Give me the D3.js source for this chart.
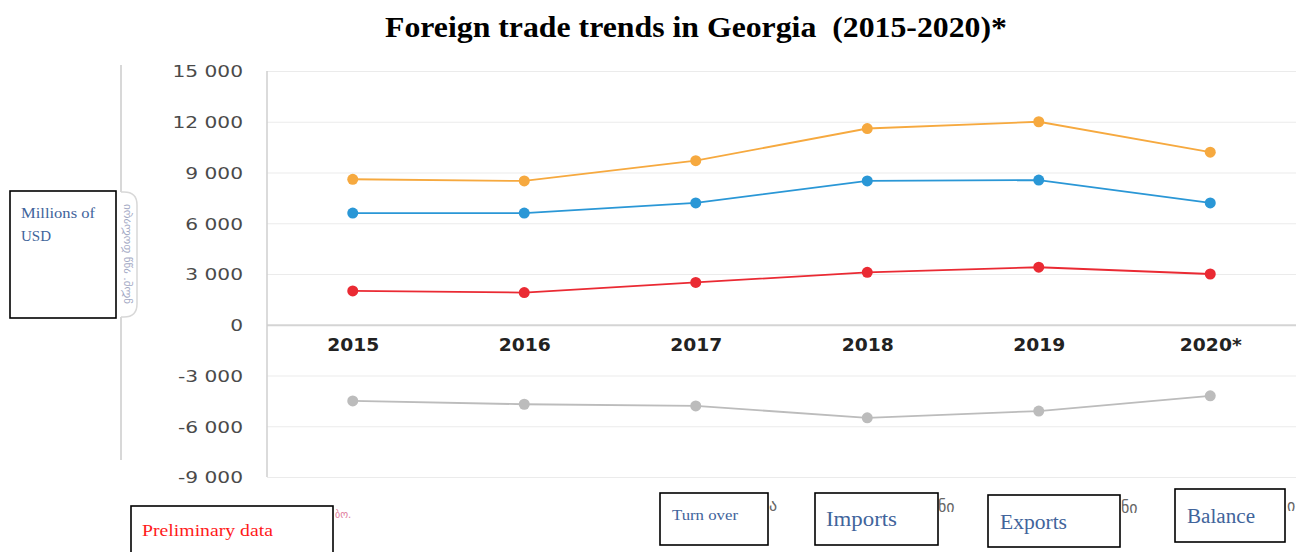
<!DOCTYPE html>
<html><head><meta charset="utf-8">
<script src="https://cdn.jsdelivr.net/npm/d3@7"></script>
<style>body{margin:0;background:#fff}svg{display:block}</style>
</head><body>
<svg id="c" width="1308" height="552"></svg>
<script>
const years = ["2015","2016","2017","2018","2019","2020*"];
const turnover = [8600, 8500, 9700, 11600, 12000, 10200];
const imports  = [6600, 6600, 7200, 8500, 8550, 7200];
const exports_ = [2000, 1900, 2500, 3100, 3400, 3000];
const balance  = [-4500, -4700, -4800, -5500, -5100, -4200];
const yTicks = [15000, 12000, 9000, 6000, 3000, 0, -3000, -6000, -9000];
const seriesNames = ["Turn over", "Imports", "Exports", "Balance"];
const seriesColors = ["#f6a93f", "#2a97d6", "#ea2a33", "#bcbcbc"];
const title = "Foreign trade trends in Georgia  (2015-2020)*";

const svg = d3.select("#c");
const x = d3.scalePoint().domain(years).range([267, 1296]).padding(0.5);
const y = d3.scaleLinear().domain([-9000, 15000]).range([477, 71]);
const fmt = v => (v < 0 ? "-" : "") + d3.format(",")(Math.abs(v)).replace(/,/g, " ");
const stretch = (sel, k) => sel.each(function () {
  const L = this.getComputedTextLength();
  d3.select(this).attr("textLength", L * k).attr("lengthAdjust", "spacingAndGlyphs");
});

// title
svg.append("text").attr("x", 696).attr("y", 37).attr("text-anchor", "middle")
  .style("white-space", "pre").attr("xml:space", "preserve")
  .attr("font-family", "Liberation Serif, Times New Roman, serif").attr("font-weight", "bold")
  .attr("font-size", 29).attr("textLength", 622).attr("lengthAdjust", "spacingAndGlyphs")
  .attr("fill", "#000").text(title);

// gridlines + y tick labels
const yAxis = d3.axisLeft(y).tickValues(yTicks).tickSize(-(1296 - 267)).tickFormat(fmt).tickPadding(24);
const ga = svg.append("g").attr("transform", "translate(267,0)").call(yAxis);
ga.select(".domain").remove();
ga.selectAll(".tick line").attr("stroke", d => d === 0 ? "#d4d4d4" : "#ebebeb").attr("stroke-width", d => d === 0 ? 2 : 1.2);
ga.selectAll(".tick text").attr("font-family", "DejaVu Sans, sans-serif").attr("font-size", 16)
  .attr("fill", "#4a4a4a").attr("dy", "0.36em").call(stretch, 1.26);

// left axis line
svg.append("line").attr("x1", 267).attr("x2", 267).attr("y1", y(15000)).attr("y2", y(-9000))
  .attr("stroke", "#cfcfcf").attr("stroke-width", 1.5);

// x labels
const xAxis = d3.axisBottom(x).tickSize(0).tickPadding(14);
const gx = svg.append("g").attr("transform", `translate(0,${y(0)})`).call(xAxis);
gx.select(".domain").remove();
gx.selectAll(".tick text").attr("font-family", "DejaVu Sans, sans-serif").attr("font-weight", "bold")
  .attr("font-size", 17).attr("fill", "#222").call(stretch, 1.1);

// series
const all = [turnover, imports, exports_, balance];
const line = d3.line().x((d, i) => x(years[i])).y(d => y(d));
all.forEach((s, k) => {
  svg.append("path").datum(s).attr("d", line).attr("fill", "none")
    .attr("stroke", seriesColors[k]).attr("stroke-width", 1.8);
  svg.append("g").selectAll("circle").data(s).join("circle")
    .attr("cx", (d, i) => x(years[i])).attr("cy", d => y(d)).attr("r", 5.5)
    .attr("fill", seriesColors[k]);
});

// left decorative axis line and bracket
svg.append("line").attr("x1", 121).attr("x2", 121).attr("y1", 65).attr("y2", 192).attr("stroke", "#d8d8d8").attr("stroke-width", 2);
svg.append("line").attr("x1", 121).attr("x2", 121).attr("y1", 317).attr("y2", 460).attr("stroke", "#d8d8d8").attr("stroke-width", 2);
svg.append("path").attr("d", "M121,192 L124,192 Q137,192 137,205 L137,304 Q137,317 124,317 L121,317")
  .attr("fill", "none").attr("stroke", "#d8d8d8").attr("stroke-width", 1.5);
svg.append("text").attr("transform", "translate(124,254) rotate(90) scale(-1,1)")
  .attr("text-anchor", "middle").attr("font-family", "DejaVu Sans, sans-serif").attr("font-size", 11)
  .attr("fill", "#a3a9c4").text("მლნ. აშშ დოლარი");

// faint underlying Georgian fragments
const frag = [[335, 518, "ბო.", "#e07a9a", 10], [769, 511, "ა", "#666", 16], [938, 512, "ნი", "#666", 16], [1121, 513, "ნი", "#666", 16], [1287, 511, "ი", "#666", 16]];
frag.forEach(f => svg.append("text").attr("x", f[0]).attr("y", f[1]).attr("font-family", "DejaVu Sans, sans-serif")
  .attr("font-size", f[4]).attr("fill", f[3]).text(f[2]));

// boxes
const serif = "Liberation Serif, Times New Roman, serif";
function box(x0, y0, w, h, txt, tx, ty, fs, col, widths) {
  svg.append("rect").attr("x", x0).attr("y", y0).attr("width", w).attr("height", h)
    .attr("fill", "#fff").attr("stroke", "#000").attr("stroke-width", 1.6);
  const lines = Array.isArray(txt) ? txt : [txt];
  lines.forEach((t, i) => svg.append("text").attr("x", tx).attr("y", ty + i * 23)
    .attr("font-family", serif).attr("font-size", fs).attr("fill", col)
    .attr("textLength", widths[i]).attr("lengthAdjust", "spacingAndGlyphs").text(t));
}
box(10, 191, 106, 127, ["Millions of", "USD"], 21, 218, 15, "#41649b", [74, 30]);
box(131, 506, 202, 52, "Preliminary data", 142, 536, 17, "#ff1a1a", [131]);
box(660, 493, 108, 52, seriesNames[0], 672, 520, 15, "#41649b", [66]);
box(815, 493, 123, 52, seriesNames[1], 826, 526, 20, "#41649b", [71]);
box(988, 495, 132, 52, seriesNames[2], 1000, 529, 20, "#41649b", [67]);
box(1175, 489, 110, 53, seriesNames[3], 1187, 523, 20, "#41649b", [68]);
</script>
</body></html>
